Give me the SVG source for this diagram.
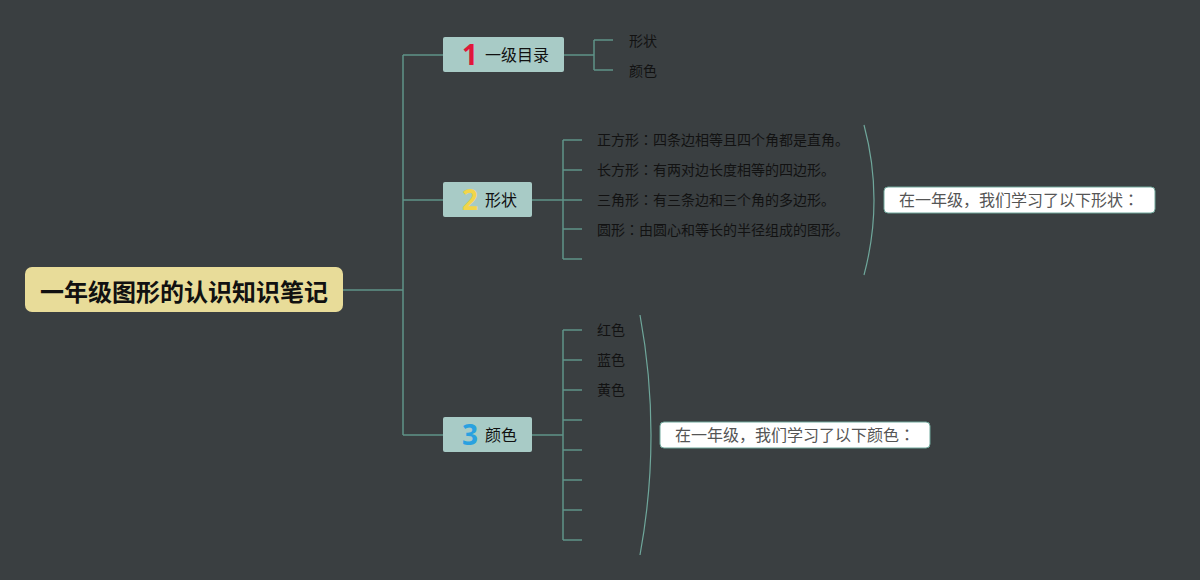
<svg xmlns="http://www.w3.org/2000/svg" width="1200" height="580" viewBox="0 0 1200 580">
<style>
.cjk{font-family:"Noto Sans CJK SC","Noto Sans",sans-serif}
.jp{font-family:"Noto Sans CJK JP","Noto Sans CJK SC",sans-serif}
.ln{fill:none;stroke:#5f9488;stroke-width:1.5}
.br{fill:none;stroke:#6fa79b;stroke-width:1.2}
.node{fill:#a8cbc6}
.nt{font-size:16px;fill:#111}
.num{font-family:"Noto Sans","DejaVu Sans",sans-serif;font-weight:bold;font-size:28px}
.leaf{font-size:14px;fill:#121212}
.sum{fill:#fff;stroke:#6fa79b;stroke-width:1}
.st{font-size:16px;fill:#555}
</style>
<rect width="1200" height="580" fill="#3a3f41"/>
<g id="connectors">
<path class="ln" d="M343 290H403M403 55V435M403 55H443M403 200H443M403 435H443"/>
<path class="ln" d="M564 55H594M594 40V70M594 40H613M594 70H613"/>
<path class="ln" d="M532 200H563M563 140V259M563 140H582M563 170H582M563 200H582M563 229H582M563 259H582"/>
<path class="ln" d="M532 435H563M563 330V540M563 330H582M563 360H582M563 390H582M563 420H582M563 450H582M563 480H582M563 510H582M563 540H582"/>
<path class="br" d="M864 125Q884 200 864 275"/>
<path class="br" d="M640 315Q662 435 640 555"/>
</g>
<g id="root">
<rect x="25" y="267" width="318" height="45" rx="7" fill="#e8dc99"/>
<text class="cjk" x="184" y="301" text-anchor="middle" font-size="24" font-weight="bold" fill="#111">一年级图形的认识知识笔记</text>
</g>
<g id="n1">
<rect class="node" x="443" y="37" width="121" height="35" rx="2"/>
<text class="num" x="470" y="65" text-anchor="middle" fill="#e0173a">1</text>
<text class="cjk nt" x="485" y="61">一级目录</text>
</g>
<g id="n1a"><text class="cjk leaf" x="629" y="46">形状</text></g>
<g id="n1b"><text class="cjk leaf" x="629" y="76">颜色</text></g>
<g id="n2">
<rect class="node" x="443" y="182" width="89" height="35" rx="2"/>
<text class="num" x="470" y="210" text-anchor="middle" fill="#f2d54a">2</text>
<text class="cjk nt" x="485" y="206">形状</text>
</g>
<g id="n2a"><text class="cjk leaf" x="597" y="145">正方形<tspan class="jp">：</tspan>四条边相等且四个角都是直角。</text></g>
<g id="n2b"><text class="cjk leaf" x="597" y="175">长方形<tspan class="jp">：</tspan>有两对边长度相等的四边形。</text></g>
<g id="n2c"><text class="cjk leaf" x="597" y="205">三角形<tspan class="jp">：</tspan>有三条边和三个角的多边形。</text></g>
<g id="n2d"><text class="cjk leaf" x="597" y="235">圆形<tspan class="jp">：</tspan>由圆心和等长的半径组成的图形。</text></g>
<g id="s2">
<rect class="sum" x="884" y="187" width="271" height="26" rx="4"/>
<text class="cjk st" x="1019" y="206" text-anchor="middle">在一年级，我们学习了以下形状<tspan class="jp">：</tspan></text>
</g>
<g id="n3">
<rect class="node" x="443" y="417" width="89" height="35" rx="2"/>
<text class="num" x="470" y="445" text-anchor="middle" fill="#2aa1e0">3</text>
<text class="cjk nt" x="485" y="441">颜色</text>
</g>
<g id="n3a"><text class="cjk leaf" x="597" y="335">红色</text></g>
<g id="n3b"><text class="cjk leaf" x="597" y="365">蓝色</text></g>
<g id="n3c"><text class="cjk leaf" x="597" y="395">黄色</text></g>
<g id="s3">
<rect class="sum" x="660" y="422" width="270" height="26" rx="4"/>
<text class="cjk st" x="795" y="441" text-anchor="middle">在一年级，我们学习了以下颜色<tspan class="jp">：</tspan></text>
</g>
</svg>
